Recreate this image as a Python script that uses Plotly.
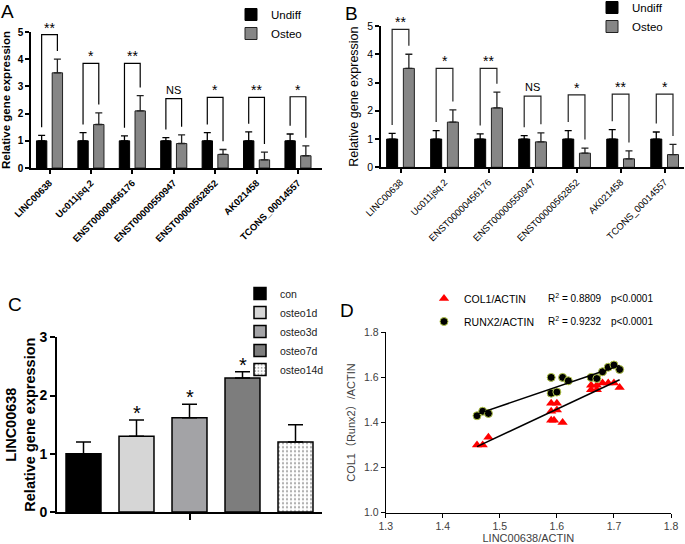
import numpy as np
import plotly.graph_objects as go

W, H = 685, 544

# ---------------- data ----------------
genes = ["LINC00638", "Uc011jsq.2", "ENST00000456176", "ENST00000550947",
         "ENST00000562852", "AK021458", "TCONS_00014557"]
undiff = [1.0, 1.0, 1.0, 1.0, 1.0, 1.0, 1.0]
undiff_err = [0.2, 0.3, 0.18, 0.12, 0.3, 0.33, 0.25]
osteo = [3.5, 1.6, 2.1, 0.9, 0.5, 0.3, 0.45]
osteo_err = [0.5, 0.43, 0.56, 0.32, 0.18, 0.28, 0.36]
sig_labels = ["**", "*", "**", "NS", "*", "**", "*"]
bracket_top_a = [4.9, 3.85, 3.85, 2.55, 2.6, 2.6, 2.62]
bracket_top_b = [4.88, 3.5, 3.5, 2.52, 2.56, 2.59, 2.59]

c_groups = ["con", "osteo1d", "osteo3d", "osteo7d", "osteo14d"]
c_values = [1.0, 1.3, 1.62, 2.3, 1.2]
c_err = [0.2, 0.28, 0.23, 0.11, 0.3]
c_sig = ["", "*", "*", "*", ""]

col1_x = [1.46, 1.47, 1.48, 1.59, 1.60, 1.59, 1.60, 1.59, 1.595, 1.61,
          1.66, 1.66, 1.67, 1.67, 1.68, 1.69, 1.70, 1.71]
col1_y = [1.30, 1.30, 1.335, 1.485, 1.485, 1.45, 1.455, 1.41, 1.41, 1.40,
          1.565, 1.545, 1.565, 1.545, 1.575, 1.575, 1.575, 1.555]
runx2_x = [1.46, 1.47, 1.48, 1.59, 1.61, 1.62, 1.59, 1.60,
           1.66, 1.67, 1.68, 1.69, 1.70, 1.71]
runx2_y = [1.43, 1.45, 1.44, 1.60, 1.60, 1.585, 1.53, 1.535,
           1.60, 1.595, 1.625, 1.645, 1.655, 1.635]
d_series = ["COL1/ACTIN", "RUNX2/ACTIN"]
d_r2 = ["0.8809", "0.9232"]
d_p = ["p<0.0001", "p<0.0001"]


def px(x):
    return x / W


def py(y):
    return 1 - y / H


FONT = "Arial, Liberation Sans, sans-serif"
BW = 0.25
DX = 0.19

fig = go.Figure()
idx = list(range(len(genes)))


def add_bar_panel(xa, ya, leg, bracket_top, color_bracket):
    fig.add_trace(go.Bar(
        x=idx, y=undiff, width=BW, offset=-DX - BW / 2, name="Undiff",
        marker=dict(color="black", line=dict(color="black", width=1)),
        error_y=dict(type="data", array=undiff_err, arrayminus=[0] * len(idx),
                     symmetric=False, color="black", thickness=1.3, width=3.5),
        xaxis=xa, yaxis=ya, legend=leg, hoverinfo="skip"))
    fig.add_trace(go.Bar(
        x=idx, y=osteo, width=BW, offset=DX - BW / 2, name="Osteo",
        marker=dict(color="#868686", line=dict(color="#222222", width=1)),
        error_y=dict(type="data", array=osteo_err, arrayminus=[0] * len(idx),
                     symmetric=False, color="#222222", thickness=1.3, width=3.5),
        xaxis=xa, yaxis=ya, legend=leg, hoverinfo="skip"))
    bx, by = [], []
    for i in idx:
        lb = undiff[i] + undiff_err[i] + 0.3
        rb = osteo[i] + osteo_err[i] + 0.3
        bx += [i - DX, i - DX, i + DX, i + DX, None]
        by += [lb, bracket_top[i], bracket_top[i], rb, None]
    fig.add_trace(go.Scatter(x=bx, y=by, mode="lines", showlegend=False,
                             line=dict(color=color_bracket, width=1.2),
                             xaxis=xa, yaxis=ya, hoverinfo="skip"))
    for i in idx:
        ns = sig_labels[i] == "NS"
        fig.add_annotation(x=i, y=bracket_top[i], xref=xa, yref=ya,
                           text=sig_labels[i], showarrow=False,
                           yanchor="bottom", yshift=-3 if not ns else 1,
                           font=dict(family=FONT, size=11 if ns else 14,
                                     color="black"))


add_bar_panel("x", "y", "legend", bracket_top_a, "black")
add_bar_panel("x2", "y2", "legend2", bracket_top_b, "#222222")

# ---------------- panel C ----------------
c_colors = ["#000000", "#d6d6d6", "#a3a3a6", "#7d7d7d", "#ffffff"]
for i, g in enumerate(c_groups):
    marker = dict(color=c_colors[i], line=dict(color="black", width=1.5))
    if g == "osteo14d":
        marker["pattern"] = dict(shape=".", fgcolor="#555555", bgcolor="white",
                                 size=4, solidity=0.25)
    fig.add_trace(go.Bar(
        x=[i], y=[c_values[i]], width=0.66, offset=-0.33, name=g,
        marker=marker,
        error_y=dict(type="data", array=[c_err[i]], arrayminus=[0],
                     symmetric=False, color="black", thickness=1.5, width=7.5),
        xaxis="x3", yaxis="y3", legend="legend3", hoverinfo="skip"))
    if c_sig[i]:
        fig.add_annotation(x=i, y=c_values[i] + c_err[i], xref="x3", yref="y3",
                           text=c_sig[i], showarrow=False, yanchor="bottom",
                           yshift=-6, font=dict(family=FONT, size=20, color="black"))

# ---------------- panel D ----------------
fig.add_trace(go.Scatter(
    x=col1_x, y=col1_y, mode="markers", name=d_series[0],
    marker=dict(symbol="triangle-up", size=9, color="#ff0000",
                line=dict(width=0)),
    xaxis="x4", yaxis="y4", legend="legend4", legendgroup="a"))
fig.add_trace(go.Scatter(
    x=runx2_x, y=runx2_y, mode="markers", name=d_series[1],
    marker=dict(symbol="circle", size=8, color="#000000",
                line=dict(width=1, color="#b5c84a")),
    xaxis="x4", yaxis="y4", legend="legend4", legendgroup="b"))
for xs, ys in ((col1_x, col1_y), (runx2_x, runx2_y)):
    k, b = np.polyfit(xs, ys, 1)
    lx = [min(xs), max(xs)]
    fig.add_trace(go.Scatter(x=lx, y=[k * v + b for v in lx], mode="lines",
                             showlegend=False, line=dict(color="black", width=1.5),
                             xaxis="x4", yaxis="y4", hoverinfo="skip"))
for j, ypix in enumerate([298, 321]):
    fig.add_annotation(x=px(546), y=py(ypix), xref="paper", yref="paper",
                       text=f"R<sup>2</sup> = {d_r2[j]}", showarrow=False,
                       xanchor="left", yanchor="middle",
                       font=dict(family=FONT, size=10, color="black"))
    fig.add_annotation(x=px(609), y=py(ypix), xref="paper", yref="paper",
                       text=d_p[j], showarrow=False,
                       xanchor="left", yanchor="middle",
                       font=dict(family=FONT, size=10, color="black"))

# panel letters
for letter, (lx, ly) in {"A": (8, 11), "B": (351, 13), "C": (15, 304), "D": (347, 310)}.items():
    fig.add_annotation(x=px(lx), y=py(ly), xref="paper", yref="paper", text=letter,
                       showarrow=False, xanchor="center", yanchor="middle",
                       font=dict(family=FONT, size=19, color="black"))

axis_common = dict(showline=True, linecolor="black", showgrid=False, zeroline=False,
                   ticks="outside", tickcolor="black")

fig.update_layout(
    width=W, height=H, margin=dict(l=0, r=0, t=0, b=0, autoexpand=False),
    plot_bgcolor="white", paper_bgcolor="white", barmode="overlay",
    font=dict(family=FONT, color="black"),
    xaxis=dict(**axis_common, domain=[px(31), px(322)], range=[-0.447, 6.58],
               anchor="y", linewidth=1.5, tickwidth=1.5, ticklen=4,
               tickvals=idx, ticktext=genes, tickangle=-45,
               tickfont=dict(size=9.5, weight="bold", color="black")),
    yaxis=dict(**axis_common, domain=[py(168), py(32)], range=[0, 5], anchor="x",
               linewidth=1.5, tickwidth=1.5, ticklen=4, dtick=1,
               tickfont=dict(size=10, weight="bold", color="black"),
               title=dict(text="Relative gene expression", standoff=6,
                          font=dict(size=11.5, weight="bold", color="black"))),
    xaxis2=dict(**axis_common, domain=[px(381), px(684)], range=[-0.443, 6.44],
                anchor="y2", linewidth=1.5, tickwidth=1.5, ticklen=4,
                tickvals=idx, ticktext=genes, tickangle=-45,
                tickfont=dict(size=9.5, color="black")),
    yaxis2=dict(**axis_common, domain=[py(167.3), py(26)], range=[0, 5], anchor="x2",
                linewidth=1.5, tickwidth=1.5, ticklen=4, dtick=1,
                tickfont=dict(size=10.5, color="black"),
                title=dict(text="Relative gene expression", standoff=6,
                           font=dict(size=12.5, color="black"))),
    xaxis3=dict(**axis_common, domain=[px(57), px(322)], range=[-0.5, 4.5],
                anchor="y3", linewidth=2, tickwidth=2, ticklen=6,
                tickvals=[2], showticklabels=False),
    yaxis3=dict(**axis_common, domain=[py(512), py(337.3)], range=[0, 3], anchor="x3",
                linewidth=2, tickwidth=2, ticklen=5, dtick=1,
                tickfont=dict(size=14, weight="bold", color="black"),
                title=dict(text="LINC00638<br>Relative gene expression", standoff=0,
                           font=dict(size=14.5, weight="bold", color="black"))),
    xaxis4=dict(**axis_common, domain=[px(385.7), px(671)], range=[1.3, 1.8],
                anchor="y4", linewidth=1, ticklen=4, dtick=0.1, tickformat=".1f",
                tickfont=dict(size=10.5, color="#404040"),
                title=dict(text="LINC00638/ACTIN", standoff=2,
                           font=dict(size=11, color="#404040"))),
    yaxis4=dict(**axis_common, domain=[py(512.7), py(332.3)], range=[1.0, 1.8],
                anchor="x4", linewidth=1, ticklen=4, dtick=0.2, tickformat=".1f",
                tickfont=dict(size=10.5, color="#404040"),
                title=dict(text="COL1（Runx2）/ACTIN", standoff=6,
                           font=dict(size=11, color="#404040",
                                     family="Arial, Noto Sans CJK SC, sans-serif"))),
    legend=dict(x=px(231), y=py(0), xanchor="left", yanchor="top",
                bgcolor="rgba(0,0,0,0)", font=dict(size=11.5, color="black")),
    legend2=dict(x=px(592), y=py(-7), xanchor="left", yanchor="top",
                 bgcolor="rgba(0,0,0,0)", font=dict(size=11.5, color="black")),
    legend3=dict(x=px(240), y=py(279), xanchor="left", yanchor="top",
                 bgcolor="rgba(0,0,0,0)", font=dict(size=10.5, color="#222222")),
    legend4=dict(x=px(424), y=py(284), xanchor="left", yanchor="top",
                 bgcolor="rgba(0,0,0,0)", font=dict(size=10.5, color="black"),
                 tracegroupgap=4),
)

fig.write_html("out.html", config={"displayModeBar": False},
               post_script="document.body.style.margin='0';document.body.style.padding='0';")
